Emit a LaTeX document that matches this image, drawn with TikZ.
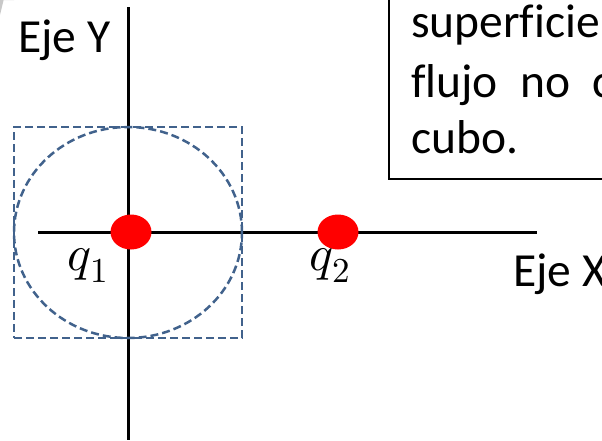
\documentclass[tikz,border=0pt]{standalone}
\usepackage{fontspec}
\usepackage{unicode-math}
\setmainfont[Ligatures=NoCommon]{Carlito}
\setmathfont{Latin Modern Math}
\usetikzlibrary{shapes.geometric}
\definecolor{gauss}{HTML}{41628C}
\definecolor{charge}{HTML}{FF0000}
\definecolor{corner}{HTML}{C8C8C8}

\begin{document}
\begin{tikzpicture}[x=1pt,y=-1pt,font=\fontsize{47.5}{56}\selectfont,
  axis/.style={line width=3pt,black},
  surface/.style={draw=gauss,dash pattern=on 8pt off 4pt,line width=2.5pt,inner sep=0pt,outer sep=0pt},
  chargedot/.style={ellipse,fill=charge,minimum width=41pt,minimum height=35pt,inner sep=0pt},
  boxtext/.style={anchor=base west,inner sep=0pt},
  qlabel/.style={anchor=base,inner sep=0pt,font=\fontsize{50}{54}\selectfont}]
  \useasboundingbox (0,0) rectangle (602,440);
  \clip (0,0) rectangle (602,440);
  \fill[corner] (0,0) -- (14,0) arc[start angle=-20,end angle=-70,radius=14] -- (0,15) -- cycle;
  % note box, cut by the page edge
  \draw[line width=2pt] (389,-20) rectangle (660,179);
  \node[boxtext] (line1) at (411,37) {superficie};
  \node[boxtext] (line2) at (411,97) {\hbox to 202pt{flujo\hfill no\hfill c}};
  \node[boxtext] (line3) at (411,153) {cubo.};
  % axes
  \coordinate (ytop) at (128,7);
  \coordinate (ybot) at (128,440);
  \coordinate (xleft) at (38,232);
  \coordinate (xright) at (537,232);
  \draw[axis] (ytop) -- (ybot);
  \draw[axis] (xleft) -- (xright);
  \node[boxtext] (ylabel) at (18,52) {Eje Y};
  \node[boxtext] (xlabel) at (513,286) {Eje X};
  % gaussian surfaces
  \node[surface,rectangle,minimum width=228pt,minimum height=211pt] (cube) at (128,232.5) {};
  \node[surface,ellipse,minimum width=228pt,minimum height=211pt] (sphere) at (128,232.5) {};
  % charges
  \node[chargedot] (q1) at (131,232) {};
  \node[chargedot] (q2) at (338,232) {};
  \node[qlabel] (q1label) at (88,270) {$q_1$};
  \node[qlabel] (q2label) at (330,270) {$q_2$};
\end{tikzpicture}
\end{document}
